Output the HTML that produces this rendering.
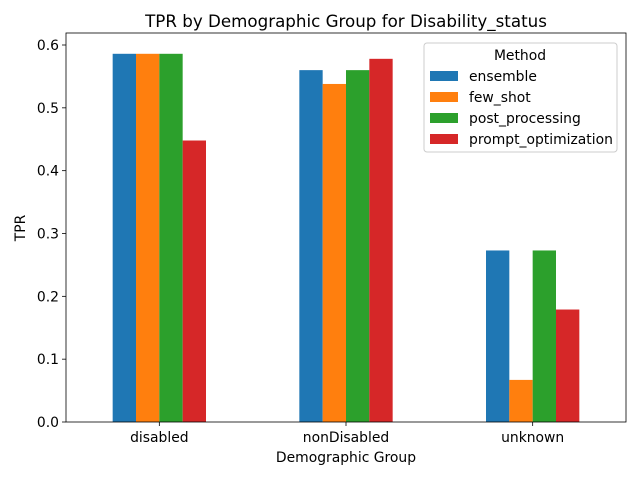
<!DOCTYPE html>
<html><head><meta charset="utf-8"><style>
body{margin:0;background:#fff;}
svg{display:block;font-family:"DejaVu Sans","Liberation Sans",sans-serif;}
</style></head><body>
<svg id="chart" width="640" height="480" xmlns="http://www.w3.org/2000/svg">
<rect width="640" height="480" fill="#fff"/>
<text x="346" y="27" font-size="16.7" text-anchor="middle">TPR by Demographic Group for Disability_status</text>
<g id="bars"></g>
<g id="axes"></g>
<text x="346" y="462" font-size="13.9" text-anchor="middle">Demographic Group</text>
<text x="25" y="228" font-size="13.9" text-anchor="middle" transform="rotate(-90 25 228)">TPR</text>
<g id="legend"></g>
</svg>
<script>
const categories=["disabled","nonDisabled","unknown"];
const seriesNames=["ensemble","few_shot","post_processing","prompt_optimization"];
const ensemble=[0.586,0.560,0.273];
const fewShot=[0.586,0.538,0.067];
const postProcessing=[0.586,0.560,0.273];
const promptOptimization=[0.448,0.578,0.179];
const yTicks=[0.0,0.1,0.2,0.3,0.4,0.5,0.6];
const colors=["#1f77b4","#ff7f0e","#2ca02c","#d62728"];
const series=[ensemble,fewShot,postProcessing,promptOptimization];
const NS="http://www.w3.org/2000/svg";
const L=66,R=626,T=33,B=422;
const yMax=0.6/((B-45)/(B-T));
function ys(v){return B-v/yMax*(B-T);}
function xs(v){return L+(v+0.5)/3*(R-L);}
function mk(tag,attrs,parent){const e=document.createElementNS(NS,tag);for(const k in attrs)e.setAttribute(k,attrs[k]);parent.appendChild(e);return e;}
const gb=document.getElementById('bars'),ga=document.getElementById('axes'),gl=document.getElementById('legend');
const bw=0.125;
series.forEach((s,si)=>{s.forEach((v,ci)=>{
 const x0=xs(ci-0.25+si*bw);const x1=xs(ci-0.25+(si+1)*bw);
 const r=mk('rect',{x:x0,y:ys(v),width:x1-x0,height:ys(0)-ys(v),fill:colors[si]},gb);
 
 
});});
yTicks.forEach(t=>{
 const y=ys(t);
 mk('line',{x1:L-4,x2:L,y1:y,y2:y,stroke:'#000','stroke-width':0.8},ga);
 const tx=mk('text',{x:L-7,y:y+5,'font-size':13.9,'text-anchor':'end'},ga);
 tx.textContent=t.toFixed(1);
 
 
});
categories.forEach((c,i)=>{
 const x=xs(i);
 mk('line',{x1:x,x2:x,y1:B,y2:B+4,stroke:'#000','stroke-width':0.8},ga);
 const tx=mk('text',{x:x,y:B+20,'font-size':13.9,'text-anchor':'middle'},ga);
 tx.textContent=c;
 
 
});
mk('rect',{x:L,y:T,width:R-L,height:B-T,fill:'none',stroke:'#000','stroke-width':0.8},ga);
const lb=mk('rect',{x:424,y:43,width:193,height:109,rx:3,fill:'#fff','fill-opacity':0.8,stroke:'#ccc'},gl);


const lt=mk('text',{x:520,y:60,'font-size':13.9,'text-anchor':'middle'},gl);
lt.textContent='Method';
seriesNames.forEach((n,i)=>{
 const y=76+i*21;
 const g=mk('g',{},gl);
 
 
 mk('rect',{x:430,y:y-5,width:28,height:10,fill:colors[i]},g);
 const t=mk('text',{x:469,y:y+5,'font-size':13.9},g);
 t.textContent=n;
});
</script>
</body></html>
